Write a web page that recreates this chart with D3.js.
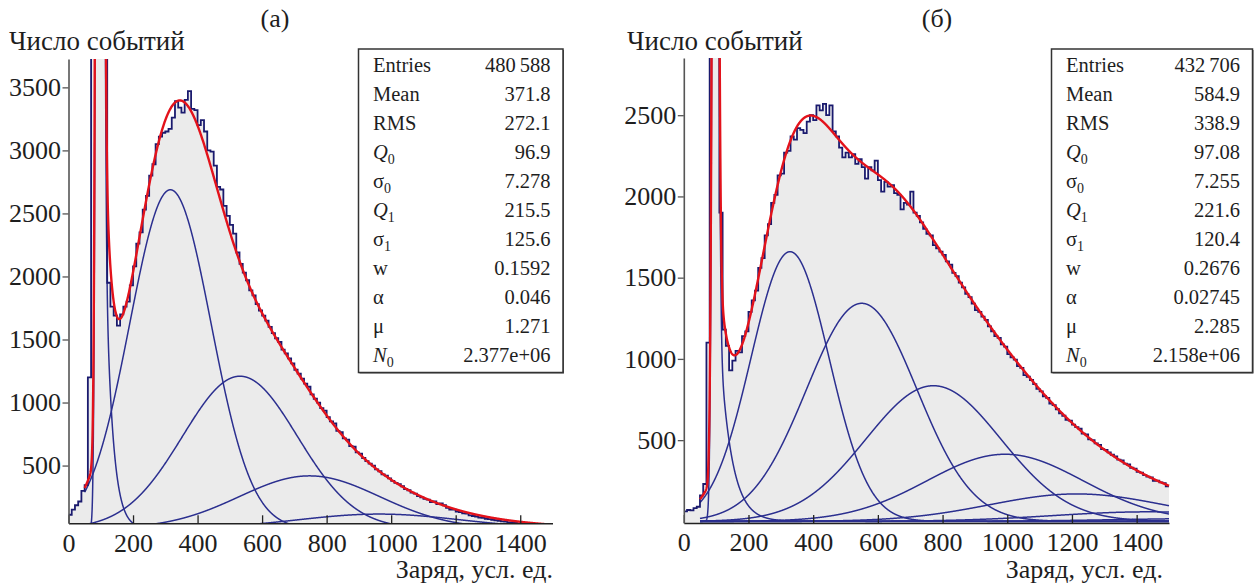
<!DOCTYPE html>
<html>
<head>
<meta charset="utf-8">
<script src="https://cdn.jsdelivr.net/npm/d3@7/dist/d3.min.js"></script>
<style>
  body { margin: 0; background: #fff; }
  svg { display: block; }
  text { font-family: "Liberation Serif", "Times New Roman", serif; fill: #1e1e1e; }
</style>
</head>
<body>
<svg id="chart" width="1257" height="585"></svg>
<script>
// ---- data -------------------------------------------------------------
// Histogram bin width (charge units); bins start at 0 and cover 0..1500
const binWidth = 10;

// Panel (а): counts per bin
const countsA = [
  110, 150, 185, 215, 300, 345, 1200, 5200, 24000, 36000,
  21000, 4400, 1950, 1760, 1690, 1610, 1700, 1760, 1800, 1930,
  2080, 2260, 2350, 2530, 2640, 2800, 2890, 3050, 3110, 3140,
  3150, 3170, 3260, 3390, 3340, 3300, 3400, 3470, 3330, 3320,
  3200, 3240, 3150, 3000, 2990, 2880, 2710, 2690, 2560, 2480,
  2410, 2340, 2190, 2100, 2030, 1970, 1890, 1850, 1780, 1730,
  1690, 1650, 1600, 1550, 1510, 1480, 1420, 1390, 1350, 1310,
  1260, 1230, 1190, 1150, 1125, 1065, 1030, 1000, 955, 935,
  885, 850, 835, 775, 765, 715, 705, 655, 650, 605,
  595, 560, 535, 515, 500, 470, 455, 430, 420, 398,
  378, 362, 352, 336, 314, 304, 286, 278, 258, 248,
  235, 230, 210, 215, 195, 200, 185, 165, 150, 150,
  135, 130, 120, 118, 105, 100, 95, 88, 85, 78,
  75, 70, 66, 62, 57, 55, 50, 48, 45, 42,
  40, 38, 35, 33, 30, 28, 26, 25, 23, 22
];

// Panel (б): counts per bin
const countsB = [
  62, 70, 68, 82, 90, 160, 230, 1100, 6000, 9000,
  6500, 1900, 1180, 1080, 930, 990, 1050, 1040, 1140, 1170,
  1290, 1360, 1420, 1560, 1620, 1760, 1830, 1960, 2010, 2130,
  2140, 2270, 2280, 2370, 2350, 2420, 2410, 2390, 2460, 2500,
  2470, 2560, 2530, 2570, 2500, 2560, 2400, 2370, 2300, 2240,
  2270, 2240, 2260, 2200, 2230, 2180, 2110, 2180, 2160, 2220,
  2100, 2030, 2090, 2060, 2070, 2020, 2010, 1920, 1960, 1950,
  2030, 1900, 1880, 1840, 1800, 1770, 1760, 1700, 1680, 1660,
  1640, 1600, 1580, 1530, 1510, 1470, 1440, 1400, 1380, 1340,
  1300, 1290, 1260, 1240, 1200, 1170, 1140, 1130, 1090, 1075,
  1030, 1010, 995, 955, 945, 900, 890, 870, 845, 815,
  800, 770, 760, 725, 715, 690, 665, 650, 625, 620,
  595, 580, 570, 540, 535, 505, 500, 480, 470, 445,
  440, 425, 410, 400, 380, 375, 355, 350, 330, 325,
  305, 300, 285, 275, 270, 250, 250, 240, 235, 215
];

// Statistics box rows ("_" marks a subscript)
const statNames = ["Entries", "Mean", "RMS", "Q_0", "σ_0", "Q_1", "σ_1", "w", "α", "μ", "N_0"];
const statsA = ["480\u2009588", "371.8", "272.1", "96.9", "7.278", "215.5", "125.6", "0.1592", "0.046", "1.271", "2.377e+06"];
const statsB = ["432\u2009706", "584.9", "338.9", "97.08", "7.255", "221.6", "120.4", "0.2676", "0.02745", "2.285", "2.158e+06"];

// Axis ticks
const xTicks = [0, 200, 400, 600, 800, 1000, 1200, 1400];
const yTicksA = [500, 1000, 1500, 2000, 2500, 3000, 3500];
const yTicksB = [500, 1000, 1500, 2000, 2500];

// Fit range and number of photoelectron terms drawn
const fitRange = [50, 1500];
const nTermsA = 6;
const nTermsB = 8;

// ---- fit model: PMT charge response (pedestal + n-photoelectron terms) --
function fitParams(stats) {
  const v = stats.map(s => Number(s.replace(/\u2009/g, "")));
  return { Q0: v[3], s0: v[4], Q1: v[5], s1: v[6], w: v[7], a: v[8], mu: v[9], N0: v[10] };
}
const SQ2PI = Math.sqrt(2 * Math.PI);
function terms(p, x, nMax) {
  const out = [];
  let pn = Math.exp(-p.mu);
  const g0 = (1 - p.w) * Math.exp(-((x - p.Q0) ** 2) / (2 * p.s0 * p.s0)) / (p.s0 * SQ2PI);
  const e0 = x >= p.Q0 ? p.w * p.a * Math.exp(-p.a * (x - p.Q0)) : 0;
  out.push(p.N0 * pn * (g0 + e0));
  for (let n = 1; n <= nMax; n++) {
    pn *= p.mu / n;
    const c = p.Q0 + p.w / p.a + n * p.Q1;
    const s = Math.sqrt(p.s0 * p.s0 + n * p.s1 * p.s1);
    out.push(p.N0 * pn * Math.exp(-((x - c) ** 2) / (2 * s * s)) / (s * SQ2PI));
  }
  return out;
}

// ---- drawing ------------------------------------------------------------
const svg = d3.select("#chart");
const FILL = "#ebebeb", HIST = "#1a1a6e", COMP = "#2b2f8f", FIT = "#e3121b";

const panels = [
  { id: "a", counts: countsA, stats: statsA, yTicks: yTicksA, nTerms: nTermsA,
    xRange: [68.5, 552.5], yDomain: [42, 3725], yRange: [523.3, 59],
    title: "(а)", titleX: 275, yLabelX: 9, xLabelEnd: 553,
    box: { x: 358.5, y: 49, w: 204.5, h: 323.5 } },
  { id: "b", counts: countsB, stats: statsB, yTicks: yTicksB, nTerms: nTermsB,
    xRange: [683.8, 1169], yDomain: [-10, 2852], yRange: [523, 58],
    title: "(б)", titleX: 937, yLabelX: 627, xLabelEnd: 1163,
    box: { x: 1051.5, y: 49, w: 201, h: 323.5 } }
];

panels.forEach(P => {
  const x = d3.scaleLinear().domain([0, 1500]).range(P.xRange);
  const y = d3.scaleLinear().domain(P.yDomain).range(P.yRange);
  const g = svg.append("g");

  const clipId = "clip-" + P.id;
  svg.append("clipPath").attr("id", clipId).append("rect")
    .attr("x", P.xRange[0]).attr("y", P.yRange[1])
    .attr("width", P.xRange[1] - P.xRange[0] + 1)
    .attr("height", P.yRange[0] - P.yRange[1]);
  const plot = g.append("g").attr("clip-path", `url(#${clipId})`);

  // histogram bins as step points
  const bins = P.counts.map((v, i) => ({ x: i * binWidth, v }));
  bins.push({ x: bins.length * binWidth, v: P.counts[P.counts.length - 1] });

  const area = d3.area().curve(d3.curveStepAfter)
    .x(d => x(d.x)).y0(P.yRange[0]).y1(d => Math.max(-2000, y(d.v)));
  plot.append("path").datum(bins).attr("d", area).attr("fill", FILL);

  // fit curves
  const p = fitParams(P.stats);
  const xs = d3.range(fitRange[0], fitRange[1] + 0.25, 0.5);
  const samples = xs.map(xv => ({ x: xv, t: terms(p, xv, P.nTerms) }));
  const clampY = v => Math.max(-2000, Math.min(2000, y(v)));

  for (let n = 0; n <= P.nTerms; n++) {
    const line = d3.line().x(d => x(d.x)).y(d => clampY(d.t[n]));
    plot.append("path").datum(samples).attr("d", line)
      .attr("fill", "none").attr("stroke", COMP).attr("stroke-width", 1.5);
  }

  const step = d3.line().curve(d3.curveStepAfter).x(d => x(d.x)).y(d => Math.max(-2000, y(d.v)));
  plot.append("path").datum(bins).attr("d", step)
    .attr("fill", "none").attr("stroke", HIST).attr("stroke-width", 1.8);

  const total = d3.line().x(d => x(d.x)).y(d => clampY(d3.sum(d.t)));
  plot.append("path").datum(samples).attr("d", total)
    .attr("fill", "none").attr("stroke", FIT).attr("stroke-width", 2.4);

  // axes
  const xAxis = d3.axisBottom(x).tickValues(xTicks).tickFormat(d3.format("d"))
    .tickSizeInner(-8).tickSizeOuter(0).tickPadding(10);
  const gx = g.append("g").attr("transform", `translate(0,${P.yRange[0]})`).call(xAxis);
  gx.attr("font-family", null).attr("font-size", null);
  gx.selectAll("text").attr("font-size", 26);
  gx.select(".domain").attr("stroke", "#222").attr("stroke-width", 1.6);
  gx.selectAll(".tick line").attr("stroke", "#222").attr("stroke-width", 1.3);

  const yAxis = d3.axisLeft(y).tickValues(P.yTicks).tickFormat(d3.format("d"))
    .tickSizeInner(6).tickSizeOuter(0).tickPadding(1.5);
  const gy = g.append("g").attr("transform", `translate(${P.xRange[0]},0)`).call(yAxis);
  gy.attr("font-family", null).attr("font-size", null);
  gy.selectAll("text").attr("font-size", 26);
  gy.select(".domain").attr("stroke", "#555").attr("stroke-width", 1.6);
  gy.selectAll(".tick line").attr("stroke", "#555").attr("stroke-width", 1.3);

  // labels
  g.append("text").attr("x", P.titleX).attr("y", 27).attr("text-anchor", "middle")
    .attr("font-size", 26).text(P.title);
  g.append("text").attr("x", P.yLabelX).attr("y", 49.5).attr("font-size", 27).text("Число событий");
  g.append("text").attr("x", P.xLabelEnd).attr("y", 578).attr("text-anchor", "end")
    .attr("font-size", 26).text("Заряд, усл. ед.");

  // statistics box
  const b = P.box;
  g.append("rect").attr("x", b.x + 1).attr("y", b.y + 1).attr("width", b.w).attr("height", b.h)
    .attr("fill", "#555");
  g.append("rect").attr("x", b.x).attr("y", b.y).attr("width", b.w).attr("height", b.h)
    .attr("fill", "#fff").attr("stroke", "#333").attr("stroke-width", 1.5);
  statNames.forEach((name, i) => {
    const ty = b.y + 22.5 + i * 29;
    const t = g.append("text").attr("x", b.x + 14.5).attr("y", ty).attr("font-size", 20.5);
    const [base, sub] = name.split("_");
    const italic = base === "Q" || base === "N";
    t.append("tspan").attr("font-style", italic ? "italic" : null).text(base);
    if (sub !== undefined) {
      t.append("tspan").attr("font-size", 14).attr("dy", 5).text(sub);
    }
    g.append("text").attr("x", b.x + b.w - 12.5).attr("y", ty).attr("text-anchor", "end")
      .attr("font-size", 20.5).text(P.stats[i]);
  });
});
</script>
</body>
</html>
